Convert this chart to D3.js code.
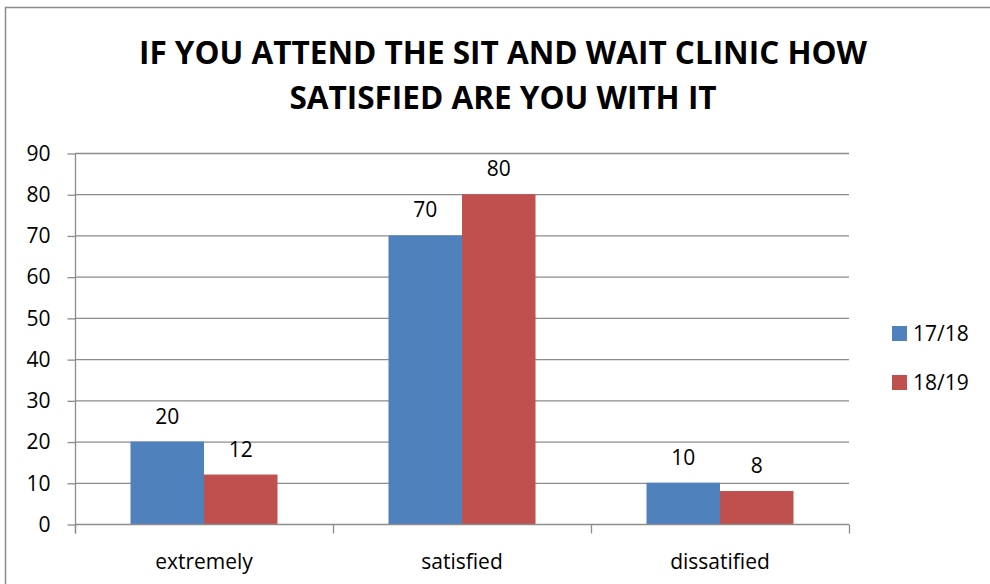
<!DOCTYPE html>
<html>
<head>
<meta charset="utf-8">
<script src="https://cdn.jsdelivr.net/npm/d3@7"></script>
<style>
  body { margin: 0; background: #fff; }
  text { font-family: "Open Sans", sans-serif; fill: #000; }
</style>
</head>
<body>
<svg id="chart"></svg>
<script>
const width = 990;
const height = 584;

const categories = ["extremely", "satisfied", "dissatified"];
const seriesNames = ["17/18", "18/19"];
const values1718 = [20, 70, 10];
const values1819 = [12, 80, 8];
const yTicks = [0, 10, 20, 30, 40, 50, 60, 70, 80, 90];
const titleLines = ["IF YOU ATTEND THE SIT AND WAIT CLINIC HOW", "SATISFIED ARE YOU WITH IT"];
const colors = ["#4f81bd", "#c0504d"];

const margin = {left: 75, right: 141, top: 153, bottom: 60};
const series = [values1718, values1819];

svg = d3.select('#chart')
    .attr('width', width)
    .attr('height', height);

// outer chart frame (cut off at right / bottom edges)
svg.append('path')
    .attr('d', 'M5.5,' + height + 'V7.5H' + width)
    .attr('fill', 'none')
    .attr('stroke', '#8c8c8c')
    .attr('stroke-width', 1.5);

var x = d3.scaleBand()
    .domain(categories)
    .range([margin.left, width - margin.right]);

var xs = d3.scaleBand()
    .domain(seriesNames)
    .range([0, x.bandwidth()])
    .paddingOuter(0.755)
    .paddingInner(0);

var y = d3.scaleLinear()
    .domain([0, 90])
    .range([height - margin.bottom, margin.top]);

// gridlines
svg.append('g').selectAll('line')
    .data(yTicks.slice(1))
    .join('line')
    .attr('x1', margin.left).attr('x2', width - margin.right)
    .attr('y1', d => y(d) + 0.5).attr('y2', d => y(d) + 0.5)
    .attr('stroke', '#8c8c8c')
    .attr('stroke-width', 1.3);

// y axis
var yAxis = svg.append('g')
    .attr('transform', 'translate(' + (margin.left + 0.5) + ',0.5)')
    .call(d3.axisLeft(y).tickValues(yTicks).tickSize(8).tickPadding(17));
yAxis.selectAll('line, path').attr('stroke', '#8c8c8c').attr('stroke-width', 1.3);
yAxis.select('.domain').attr('d', 'M0,' + (y(0) + 9) + 'V' + y(90));
yAxis.selectAll('text').style('font-size', '21px').style('font-family', '"Open Sans", sans-serif').attr('fill', '#000');

// bars
svg.append('g').selectAll('g')
    .data(series)
    .join('g')
    .attr('fill', (d, i) => colors[i])
    .selectAll('rect')
    .data((d, i) => d.map((v, j) => ({v: v, cat: categories[j], s: seriesNames[i]})))
    .join('rect')
    .attr('x', d => x(d.cat) + xs(d.s))
    .attr('width', xs.bandwidth())
    .attr('y', d => y(d.v))
    .attr('height', d => y(0) - y(d.v));

// data labels
svg.append('g').selectAll('g')
    .data(series)
    .join('g')
    .selectAll('text')
    .data((d, i) => d.map((v, j) => ({v: v, cat: categories[j], s: seriesNames[i]})))
    .join('text')
    .attr('x', d => x(d.cat) + xs(d.s) + xs.bandwidth() / 2)
    .attr('y', d => y(d.v) - 18)
    .attr('text-anchor', 'middle')
    .style('font-size', '21px')
    .text(d => d.v);

// x axis
var xAxis = svg.append('g')
    .attr('transform', 'translate(0,' + (y(0) + 0.5) + ')');
xAxis.append('line')
    .attr('x1', margin.left).attr('x2', width - margin.right)
    .attr('stroke', '#8c8c8c').attr('stroke-width', 1.3);
xAxis.selectAll('.tk')
    .data(categories.map(c => x(c)).concat([x(categories[categories.length - 1]) + x.bandwidth()]))
    .join('line')
    .attr('x1', d => d + 0.5).attr('x2', d => d + 0.5)
    .attr('y1', 0).attr('y2', 9)
    .attr('stroke', '#8c8c8c').attr('stroke-width', 1.3);
xAxis.selectAll('text')
    .data(categories)
    .join('text')
    .attr('x', d => x(d) + x.bandwidth() / 2)
    .attr('y', 44)
    .attr('text-anchor', 'middle')
    .style('font-size', '21px')
    .text(d => d);

// title
svg.append('g').selectAll('text')
    .data(titleLines)
    .join('text')
    .attr('x', 503)
    .attr('y', (d, i) => 64 + i * 45)
    .attr('text-anchor', 'middle')
    .style('font-size', '31.5px')
    .style('font-weight', 'bold')
    .text(d => d);

// legend
var legend = svg.append('g').selectAll('g')
    .data(seriesNames)
    .join('g')
    .attr('transform', (d, i) => 'translate(892,' + (326 + i * 49) + ')');
legend.append('rect')
    .attr('width', 15).attr('height', 15)
    .attr('fill', (d, i) => colors[i]);
legend.append('text')
    .attr('x', 21).attr('y', 15)
    .style('font-size', '21px')
    .text(d => d);
</script>
</body>
</html>
